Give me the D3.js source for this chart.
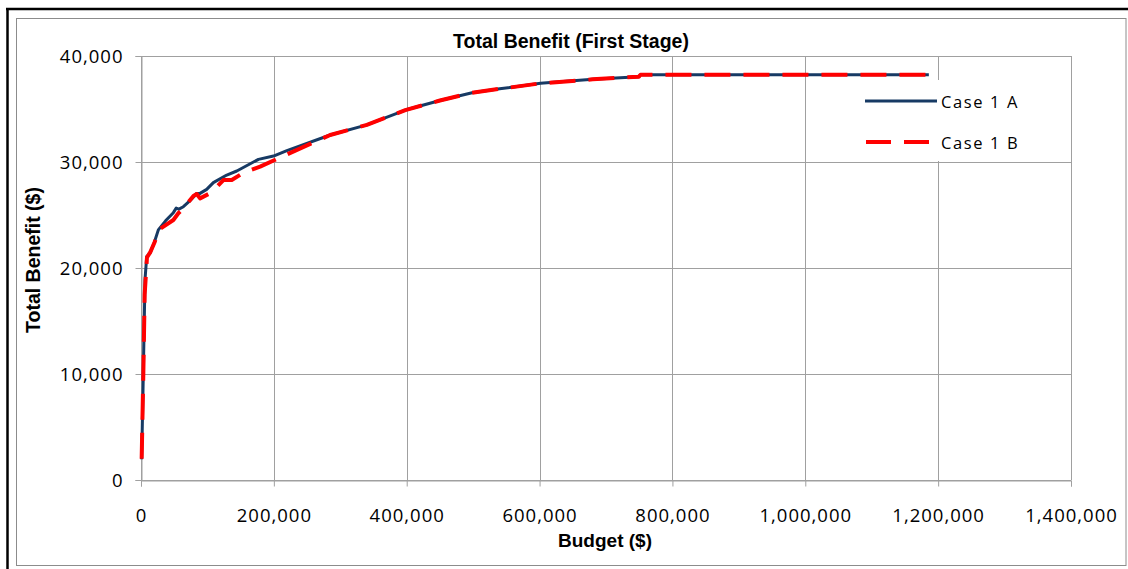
<!DOCTYPE html>
<html>
<head>
<meta charset="utf-8">
<script src="https://cdn.jsdelivr.net/npm/d3@7"></script>
<style>
  html, body { margin: 0; padding: 0; background: #fff; }
  svg { display: block; }
</style>
</head>
<body>
<svg id="chart" width="1128" height="569"></svg>
<script>
// ---- Data ----
const chartTitle = "Total Benefit (First Stage)";
const xTitle = "Budget ($)";
const yTitle = "Total Benefit ($)";
const seriesNames = ["Case 1 A", "Case 1 B"];

const xTicks = [0, 200000, 400000, 600000, 800000, 1000000, 1200000, 1400000];
const yTicks = [0, 10000, 20000, 30000, 40000];

const budgetA  = [1000, 3500, 6000, 8600, 13600, 20000, 26100, 37000, 48700, 53000, 57000, 63800, 73800, 83900, 88900, 98900, 108900, 129100, 144200, 176800, 199400, 219600, 284800, 340000, 397900, 450000, 498400, 540000, 601400, 680000, 749500, 752000, 1186000];
const benefitA = [1950, 10060, 18870, 21070, 21390, 22400, 23600, 24450, 25220, 25650, 25550, 25780, 26350, 27040, 27040, 27420, 28050, 28770, 29150, 30250, 30560, 31070, 32550, 33500, 34900, 35800, 36540, 36900, 37420, 37800, 38050, 38230, 38230];

const budgetB  = [1000, 3500, 5500, 9000, 14000, 20300, 27600, 48700, 56200, 61300, 78900, 83900, 88900, 106500, 124000, 136600, 154200, 179300, 212000, 284800, 340000, 397900, 450000, 498400, 540000, 601400, 680000, 749500, 752000, 1186000];
const benefitB = [2000, 10000, 17500, 21000, 21500, 22400, 23650, 24530, 25160, 25470, 26790, 26980, 26570, 27140, 28300, 28300, 28990, 29560, 30500, 32550, 33500, 34900, 35800, 36540, 36900, 37420, 37800, 38050, 38230, 38230];

// ---- Layout ----
const svg = d3.select("#chart");
const W = 1128, H = 569;
const plot = { left: 141, right: 1071, top: 56, bottom: 480 };

const x = d3.scaleLinear().domain([0, 1400000]).range([plot.left, plot.right]);
const y = d3.scaleLinear().domain([0, 40000]).range([plot.bottom, plot.top]);

const fmt = d3.format(",");
const tickFont = "'Open Sans', 'Liberation Sans', sans-serif";
const boldFont = "'Liberation Sans', Arial, sans-serif";

// outer frame
svg.append("rect").attr("x", 0).attr("y", 0).attr("width", W).attr("height", H).attr("fill", "#fff");
svg.append("line").attr("x1", 6).attr("x2", W).attr("y1", 9).attr("y2", 9).attr("stroke", "#000").attr("stroke-width", 2.5);
svg.append("line").attr("x1", 7.5).attr("x2", 7.5).attr("y1", 8).attr("y2", H).attr("stroke", "#000").attr("stroke-width", 2.5);
svg.append("rect").attr("x", 16.5).attr("y", 18.5).attr("width", 1126 - 16.5).attr("height", 565.5 - 18.5)
  .attr("fill", "none").attr("stroke", "#8c8c8c").attr("stroke-width", 1);

// gridlines
const grid = svg.append("g");
grid.selectAll("line.h").data(yTicks).join("line")
  .attr("x1", plot.left).attr("x2", plot.right)
  .attr("y1", d => Math.round(y(d)) + 0.5).attr("y2", d => Math.round(y(d)) + 0.5)
  .attr("stroke", "#a0a0a0").attr("stroke-width", 1);
grid.selectAll("line.v").data(xTicks).join("line")
  .attr("x1", d => Math.round(x(d)) + 0.5).attr("x2", d => Math.round(x(d)) + 0.5)
  .attr("y1", plot.top).attr("y2", plot.bottom)
  .attr("stroke", "#a0a0a0").attr("stroke-width", 1);

// axes
const yAxis = d3.axisLeft(y).tickValues(yTicks).tickFormat(fmt).tickSize(6).tickPadding(12);
const xAxis = d3.axisBottom(x).tickValues(xTicks).tickFormat(fmt).tickSize(6).tickPadding(22);

const gy = svg.append("g").attr("transform", `translate(${plot.left + 0.5},0)`).call(yAxis);
const gx = svg.append("g").attr("transform", `translate(0,${plot.bottom + 0.5})`).call(xAxis);
[gx, gy].forEach(g => {
  g.select(".domain").attr("stroke", "#a0a0a0");
  g.selectAll(".tick line").attr("stroke", "#a0a0a0");
  g.selectAll(".tick text").attr("fill", "#000")
    .style("font-family", tickFont).style("font-size", "18.5px").style("letter-spacing", "1px");
});
gy.selectAll(".tick text").attr("dy", "0.36em");

// lines
const lineA = d3.line().x((d, i) => x(budgetA[i])).y((d, i) => y(benefitA[i]));
const lineB = d3.line().x((d, i) => x(budgetB[i])).y((d, i) => y(benefitB[i]));

svg.append("path").datum(benefitA).attr("d", lineA)
  .attr("fill", "none").attr("stroke", "#173a64").attr("stroke-width", 3).attr("stroke-linejoin", "round");
svg.append("path").datum(benefitB).attr("d", lineB)
  .attr("fill", "none").attr("stroke", "#ff0000").attr("stroke-width", 4)
  .attr("stroke-dasharray", "26,13").attr("stroke-linejoin", "round");

// legend
const lg = svg.append("g");
lg.append("rect").attr("x", 861).attr("y", 80).attr("width", 159).attr("height", 81).attr("fill", "#fff");
lg.append("line").attr("x1", 865).attr("x2", 937).attr("y1", 101).attr("y2", 101)
  .attr("stroke", "#173a64").attr("stroke-width", 3);
lg.append("line").attr("x1", 866).attr("x2", 930).attr("y1", 142).attr("y2", 142)
  .attr("stroke", "#ff0000").attr("stroke-width", 4).attr("stroke-dasharray", "25,13");
lg.selectAll("text").data(seriesNames).join("text")
  .attr("x", 941).attr("y", (d, i) => 102 + i * 41).attr("dy", "0.36em")
  .style("font-family", tickFont).style("font-size", "16.5px").style("letter-spacing", "1.6px")
  .attr("fill", "#000").text(d => d);

// titles
svg.append("text").attr("x", 571).attr("y", 48).attr("text-anchor", "middle")
  .style("font-family", boldFont).style("font-weight", "bold").style("font-size", "19.5px")
  .text(chartTitle);
svg.append("text").attr("x", 605).attr("y", 547).attr("text-anchor", "middle")
  .style("font-family", boldFont).style("font-weight", "bold").style("font-size", "19px")
  .text(xTitle);
svg.append("text").attr("transform", `translate(40,260) rotate(-90)`).attr("text-anchor", "middle")
  .style("font-family", boldFont).style("font-weight", "bold").style("font-size", "19.5px")
  .text(yTitle);
</script>
</body>
</html>
